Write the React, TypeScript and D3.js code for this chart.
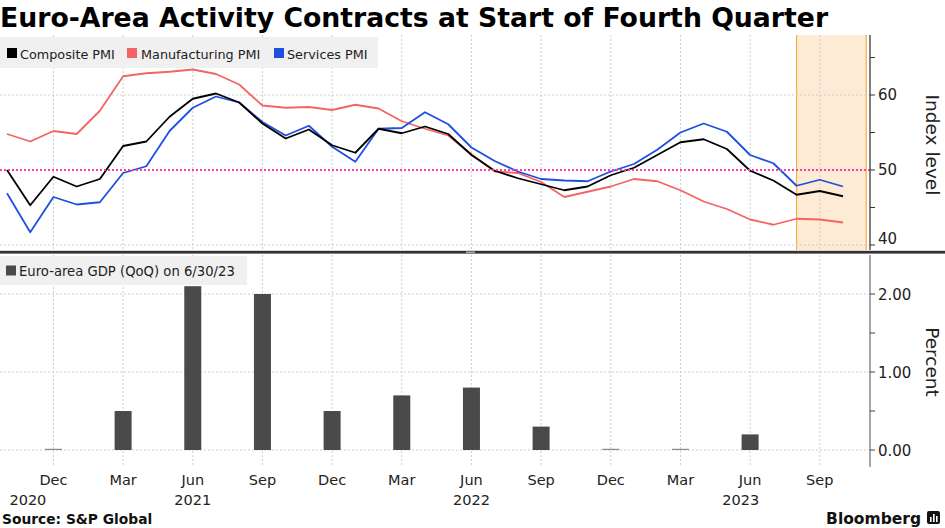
import React from "react";
import * as d3 from "d3";

// monthly PMI readings, Oct 2020 .. Oct 2023 (month index 0 = Oct 2020)
const composite = [
  50.0, 45.3, 49.1, 47.8, 48.8, 53.2, 53.8, 57.1, 59.5, 60.2, 59.0, 56.2,
  54.2, 55.4, 53.3, 52.3, 55.5, 54.9, 55.8, 54.8, 52.0, 49.9, 48.9, 48.1,
  47.3, 47.8, 49.3, 50.3, 52.0, 53.7, 54.1, 52.8, 49.9, 48.6, 46.7, 47.2, 46.5,
];
const manufacturing = [
  54.8, 53.8, 55.2, 54.8, 57.9, 62.5, 62.9, 63.1, 63.4, 62.8, 61.4, 58.6,
  58.3, 58.4, 58.0, 58.7, 58.2, 56.5, 55.5, 54.6, 52.1, 49.8, 49.6, 48.4,
  46.4, 47.1, 47.8, 48.8, 48.5, 47.3, 45.8, 44.8, 43.4, 42.7, 43.5, 43.4, 43.0,
];
const services = [
  46.9, 41.7, 46.4, 45.4, 45.7, 49.6, 50.5, 55.2, 58.3, 59.8, 59.0, 56.4,
  54.6, 55.9, 53.1, 51.1, 55.5, 55.6, 57.7, 56.1, 53.0, 51.2, 49.8, 48.8,
  48.6, 48.5, 49.8, 50.8, 52.7, 55.0, 56.2, 55.1, 52.0, 50.9, 47.9, 48.7, 47.8,
];

// quarterly GDP (QoQ %), quarter-end months Dec 2020 .. Jun 2023
const gdpMonths = [2, 5, 8, 11, 14, 17, 20, 23, 26, 29, 32];
const gdpValues = [0.0, 0.5, 2.1, 2.0, 0.5, 0.7, 0.8, 0.3, 0.0, 0.0, 0.2];

const tickMonths = [2, 5, 8, 11, 14, 17, 20, 23, 26, 29, 32, 35];
const tickLabels = ["Dec", "Mar", "Jun", "Sep", "Dec", "Mar", "Jun", "Sep", "Dec", "Mar", "Jun", "Sep"];
const yearMonths = [0.9, 8, 20, 31.6];
const yearLabels = ["2020", "2021", "2022", "2023"];

const shadeStart = 34; // Aug 2023
const shadeEnd = 37; // Nov 2023

const pmiTicks = [40, 50, 60];
const pmiMinor = [45, 55, 65];
const gdpTicks = [0, 1, 2];
const gdpMinor = [0.5, 1.5];

const W = 945;
const H = 528;
const FONT = "'DejaVu Sans', Verdana, sans-serif";

const COLORS = {
  composite: "#000000",
  manufacturing: "#f46464",
  services: "#1f4fe0",
  bar: "#4a4a4a",
  grid: "#cfcfcf",
  ref: "#ff3ea5",
};

export default function App() {
  const plotRight = 870;
  const topY0 = 35;
  const topY1 = 250;
  const botY0 = 255;
  const botY1 = 467;

  const x = d3.scaleLinear().domain([0, 36]).range([7, 843]);
  const yTop = d3.scaleLinear().domain([40, 60]).range([245, 95]);
  const yBot = d3.scaleLinear().domain([0, 2]).range([450, 294]);

  const line = d3
    .line<number>()
    .x((_, i) => x(i))
    .y((d) => yTop(d));

  const series = [
    { name: "Manufacturing PMI", values: manufacturing, color: COLORS.manufacturing },
    { name: "Services PMI", values: services, color: COLORS.services },
    { name: "Composite PMI", values: composite, color: COLORS.composite },
  ];

  const legendTop = [
    { name: "Composite PMI", color: COLORS.composite, sx: 7, tx: 20 },
    { name: "Manufacturing PMI", color: COLORS.manufacturing, sx: 127, tx: 141 },
    { name: "Services PMI", color: COLORS.services, sx: 274, tx: 287 },
  ];

  const barW = 17;

  return (
    <div style={{ position: "fixed", left: 0, top: 0 }}>
      <svg width={W} height={H} style={{ display: "block", background: "#fff" }} fontFamily={FONT}>
        {/* title */}
        <text x={0} y={27} fontSize={26.7} fontWeight="bold" fill="#000">
          Euro-Area Activity Contracts at Start of Fourth Quarter
        </text>

        <defs>
          <clipPath id="topClip">
            <rect x={0} y={topY0} width={plotRight} height={topY1 - topY0} />
          </clipPath>
        </defs>

        {/* ---------- top panel ---------- */}
        {/* shaded window */}
        <rect
          x={x(shadeStart)}
          y={topY0}
          width={x(shadeEnd) - x(shadeStart)}
          height={topY1 - topY0}
          fill="#fdebd6"
        />
        <line x1={x(shadeStart)} x2={x(shadeStart)} y1={topY0} y2={topY1} stroke="#f5ad45" strokeWidth={1.2} />
        <line x1={x(shadeEnd)} x2={x(shadeEnd)} y1={topY0} y2={topY1} stroke="#f5ad45" strokeWidth={1.2} />

        {/* grid */}
        {tickMonths.map((m) => (
          <line key={"vt" + m} x1={x(m)} x2={x(m)} y1={topY0} y2={topY1} stroke={COLORS.grid} strokeDasharray="2,2" />
        ))}
        {pmiTicks
          .filter((t) => t !== 50)
          .map((t) => (
            <line key={"ht" + t} x1={0} x2={plotRight} y1={yTop(t)} y2={yTop(t)} stroke={COLORS.grid} strokeDasharray="2,2" />
          ))}

        {/* legend */}
        <rect x={0} y={37} width={378} height={31} fill="#f0f0f0" />
        {legendTop.map((l) => (
          <g key={l.name}>
            <rect x={l.sx} y={48} width={10} height={10} fill={l.color} />
            <text x={l.tx} y={58.5} fontSize={12.8} fill="#222">
              {l.name}
            </text>
          </g>
        ))}

        <g clipPath="url(#topClip)">
          {series.map((s) => (
            <path key={s.name} d={line(s.values) ?? ""} fill="none" stroke={s.color} strokeWidth={1.8} strokeLinejoin="round" />
          ))}
        </g>

        {/* 50 reference line */}
        <line x1={0} x2={plotRight} y1={yTop(50)} y2={yTop(50)} stroke={COLORS.ref} strokeWidth={2.2} strokeDasharray="2,2" />

        {/* right axis */}
        <line x1={plotRight} x2={plotRight} y1={topY0} y2={topY1} stroke="#555" strokeWidth={1.5} />
        {pmiTicks.concat(pmiMinor).map((t) => (
          <line key={"tk" + t} x1={plotRight} x2={plotRight + 5} y1={yTop(t)} y2={yTop(t)} stroke="#333" />
        ))}
        {pmiTicks.map((t) => (
          <text key={"tl" + t} x={plotRight + 8} y={t === 40 ? yTop(t) - 1 : yTop(t) + 5} fontSize={15} fill="#222">
            {t}
          </text>
        ))}
        <text transform={`translate(926,145) rotate(90)`} textAnchor="middle" fontSize={18.5} fill="#222">
          Index level
        </text>

        {/* separator */}
        <rect x={0} y={250.8} width={W} height={2.8} fill="#333" />
        <rect x={466} y={251.5} width={9} height={1.5} fill="#aaa" />

        {/* ---------- bottom panel ---------- */}
        {tickMonths.map((m) => (
          <line key={"vb" + m} x1={x(m)} x2={x(m)} y1={botY0} y2={botY1} stroke={COLORS.grid} strokeDasharray="2,2" />
        ))}
        {gdpTicks.map((t) => (
          <line key={"hb" + t} x1={0} x2={plotRight} y1={yBot(t)} y2={yBot(t)} stroke={COLORS.grid} strokeDasharray="2,2" />
        ))}

        {gdpValues.map((v, i) => {
          const top = yBot(Math.max(v, 0));
          const h = Math.max(1.2, yBot(0) - top);
          return (
            <rect
              key={"b" + i}
              x={x(gdpMonths[i]) - barW / 2}
              y={yBot(0) - h}
              width={barW}
              height={h}
              fill={v === 0 ? "#888" : COLORS.bar}
            />
          );
        })}

        {/* bottom legend */}
        <rect x={0} y={256} width={247} height={29} fill="#f0f0f0" />
        <rect x={6} y={265.5} width={10} height={10} fill={COLORS.bar} />
        <text x={19} y={276} fontSize={13.2} fill="#222">
          Euro-area GDP (QoQ) on 6/30/23
        </text>

        <line x1={plotRight} x2={plotRight} y1={botY0} y2={botY1} stroke="#888" strokeWidth={1.5} />
        {gdpTicks.concat(gdpMinor).map((t) => (
          <line key={"bk" + t} x1={plotRight} x2={plotRight + 5} y1={yBot(t)} y2={yBot(t)} stroke="#444" />
        ))}
        {gdpTicks.map((t) => (
          <text key={"bl" + t} x={plotRight + 8} y={yBot(t) + 5.5} fontSize={15} fill="#222">
            {d3.format(".2f")(t)}
          </text>
        ))}
        <text transform={`translate(926,362) rotate(90)`} textAnchor="middle" fontSize={18.5} fill="#222">
          Percent
        </text>

        {/* x axis labels */}
        {tickMonths.map((m, i) => (
          <text key={"xl" + m} x={x(m)} y={485} textAnchor="middle" fontSize={14.5} fill="#222">
            {tickLabels[i]}
          </text>
        ))}
        {yearMonths.map((m, i) => (
          <text key={"yl" + i} x={x(m)} y={505} textAnchor="middle" fontSize={14.5} fill="#222">
            {yearLabels[i]}
          </text>
        ))}

        {/* footer */}
        <text x={2} y={524} fontSize={13.8} fontWeight="bold" fill="#111">
          Source: S&amp;P Global
        </text>
        <text x={921} y={524} textAnchor="end" fontSize={15.5} fontWeight="bold" fill="#111">
          Bloomberg
        </text>
        <g>
          <rect x={927} y={511} width={13} height={13} rx={2} fill="#111" />
          <rect x={930} y={517} width={1.6} height={5} fill="#fff" />
          <rect x={933} y={514} width={1.6} height={8} fill="#fff" />
          <rect x={936} y={516} width={1.6} height={6} fill="#fff" />
        </g>
      </svg>
    </div>
  );
}
